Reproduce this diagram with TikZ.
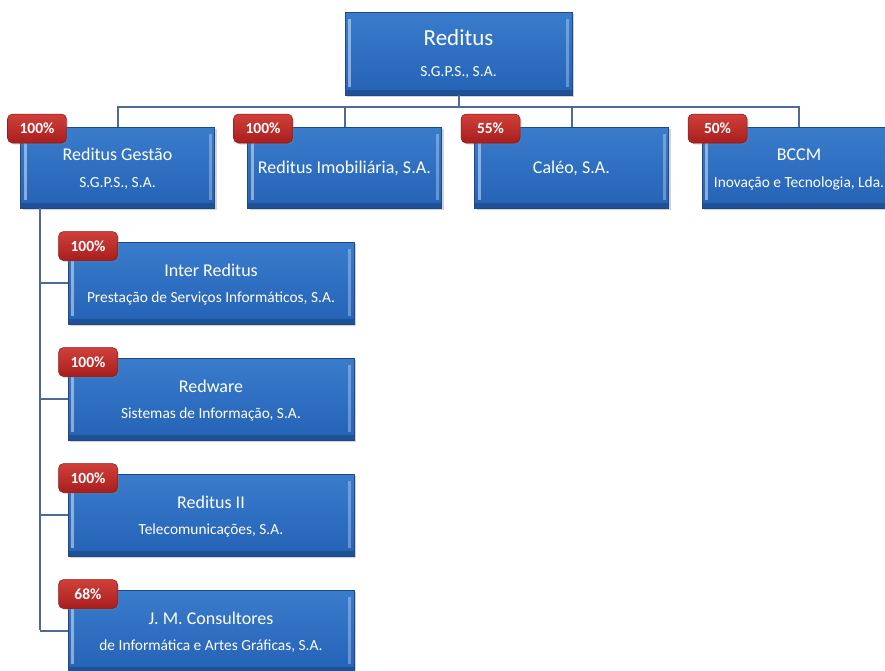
\documentclass[tikz,border=0pt]{standalone}
\usepackage{fontspec}
\setmainfont{Carlito}
\usetikzlibrary{shadows}
\definecolor{btop}{RGB}{58,124,204}
\definecolor{bbot}{RGB}{36,98,182}
\definecolor{bedge}{RGB}{32,72,132}
\definecolor{rtop}{RGB}{208,64,58}
\definecolor{rbot}{RGB}{168,30,30}
\definecolor{conn}{RGB}{78,106,150}
\tikzset{
  orgbox/.style={rectangle, draw=bedge, line width=0.8pt, top color=btop, bottom color=bbot,
    inner sep=0pt,
    drop shadow={shadow xshift=2pt, shadow yshift=-2pt, opacity=0.35},
    path picture={
      \fill[white, opacity=0.45] ([xshift=3pt,yshift=-7pt]path picture bounding box.north west)
        rectangle ([xshift=6pt,yshift=8pt]path picture bounding box.south west);
      \fill[white, opacity=0.3] ([xshift=-6pt,yshift=-7pt]path picture bounding box.north east)
        rectangle ([xshift=-3pt,yshift=8pt]path picture bounding box.south east);
      \fill[black, opacity=0.18] ([yshift=5pt]path picture bounding box.south west)
        rectangle (path picture bounding box.south east);
    }},
  badge/.style={rectangle, rounded corners=5pt, draw=rbot!80!black, line width=0.5pt,
    top color=rtop, bottom color=rbot, text=white, font=\fontsize{15.5}{16}\selectfont\bfseries,
    minimum width=59pt, minimum height=29pt, inner sep=0pt,
    drop shadow={shadow xshift=1.5pt, shadow yshift=-1.5pt, opacity=0.3}},
  l1/.style={orgbox, minimum width=227pt, minimum height=83pt},
  l2/.style={orgbox, minimum width=194pt, minimum height=81pt},
  l3/.style={orgbox, minimum width=286pt, minimum height=82pt},
  link/.style={draw=conn, line width=2pt},
  bigt/.style={text=white, anchor=base, inner sep=0pt, font=\fontsize{23}{26}\selectfont},
  ttl/.style={text=white, anchor=base, inner sep=0pt, font=\fontsize{18}{21}\selectfont},
  subt/.style={text=white, anchor=base, inner sep=0pt, font=\fontsize{15.4}{18}\selectfont},
}
\begin{document}
\begin{tikzpicture}[x=1pt,y=-1pt]
\useasboundingbox (0,0) rectangle (885,670);
\clip (0,0) rectangle (885,670);
% boxes
\node[l1] (top) at (458.5,53.5) {};
\node[l2] (gest) at (117.5,167.5) {};
\node[l2] (imob) at (344.5,167.5) {};
\node[l2] (caleo) at (571.5,167.5) {};
\node[l2] (bccm) at (799,167.5) {};
\node[l3] (inter) at (211,283) {};
\node[l3] (redw) at (211,399) {};
\node[l3] (red2) at (211,515) {};
\node[l3] (jm) at (211,631) {};
% connectors
\coordinate (hM) at (458.5,107);
\coordinate (vB) at (40,630);
\path[link] (top.south) -- (hM);
\path[link] (gest.north) |- (hM);
\path[link] (bccm.north) |- (hM);
\path[link] (imob.north) -- (imob.north |- hM);
\path[link] (caleo.north) -- (caleo.north |- hM);
\path[link] (gest.south -| vB) -- (vB);
\foreach \n in {inter,redw,red2,jm} \path[link] (\n.west -| vB) -- (\n.west);
% texts
\node[bigt] (topT) at (458.5,45.4) {Reditus};
\node[subt] (topS) at (458.5,76) {S.G.P.S., S.A.};
\node[ttl] (gestT) at (117.5,160.8) {Reditus Gestão};
\node[subt] (gestS) at (117.5,187) {S.G.P.S., S.A.};
\node[ttl] (imobT) at (344.5,173.8) {Reditus Imobiliária, S.A.};
\node[ttl] (caleoT) at (571.5,173.8) {Caléo, S.A.};
\node[ttl] (bccmT) at (799,160.8) {BCCM};
\node[subt] (bccmS) at (799,187) {Inovação e Tecnologia, Lda.};
\node[ttl] (interT) at (211,276) {Inter Reditus};
\node[subt] (interS) at (211,302.5) {Prestação de Serviços Informáticos, S.A.};
\node[ttl] (redwT) at (211,392) {Redware};
\node[subt] (redwS) at (211,418.5) {Sistemas de Informação, S.A.};
\node[ttl] (red2T) at (211,508) {Reditus II};
\node[subt] (red2S) at (211,534.5) {Telecomunicações, S.A.};
\node[ttl] (jmT) at (211,624) {J. M. Consultores};
\node[subt] (jmS) at (211,650.5) {de Informática e Artes Gráficas, S.A.};
% badges
\node[badge] (b1) at (37,128.5) {100\%};
\node[badge] (b2) at (263,128.5) {100\%};
\node[badge] (b3) at (490.5,128.5) {55\%};
\node[badge] (b4) at (717.5,128.5) {50\%};
\node[badge] (b5) at (88,246) {100\%};
\node[badge] (b6) at (88,362) {100\%};
\node[badge] (b7) at (88,478) {100\%};
\node[badge] (b8) at (88,594) {68\%};
\end{tikzpicture}
\end{document}
